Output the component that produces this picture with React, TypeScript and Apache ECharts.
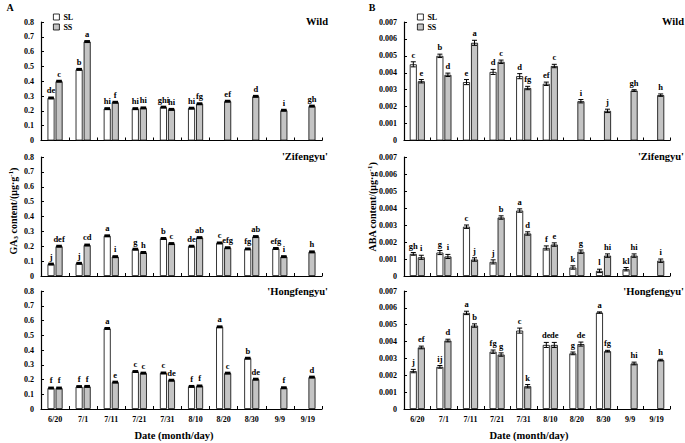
import React, { useEffect, useRef } from "react";
import * as echarts from "echarts";

const categories = ["6/20", "7/1", "7/11", "7/21", "7/31", "8/10", "8/20", "8/30", "9/9", "9/19"];

// GA3 (panel A)
const gaWildSL = [0.287, 0.48, 0.215, 0.215, 0.225, 0.218, null, null, null, null];
const gaWildSS = [0.4, 0.668, 0.258, 0.22, 0.21, 0.248, 0.265, 0.298, 0.204, 0.232];
const gaWildSLLetters = ["de", "b", "hi", "hi", "ghi", "hi", "", "", "", ""];
const gaWildSSLetters = ["c", "a", "f", "hi", "hi", "fg", "ef", "d", "i", "gh"];

const gaZifSL = [0.08, 0.085, 0.27, 0.18, 0.252, 0.2, 0.222, 0.182, 0.185, null];
const gaZifSS = [0.2, 0.208, 0.13, 0.158, 0.218, 0.258, 0.19, 0.265, 0.13, 0.162];
const gaZifSLLetters = ["j", "j", "a", "g", "b", "de", "c", "fg", "efg", ""];
const gaZifSSLetters = ["def", "cd", "i", "h", "c", "ab", "efg", "ab", "i", "h"];

const gaHongSL = [0.142, 0.152, 0.546, 0.254, 0.244, 0.153, 0.557, 0.344, null, null];
const gaHongSS = [0.142, 0.153, 0.182, 0.243, 0.195, 0.156, 0.243, 0.202, 0.144, 0.216];
const gaHongSLLetters = ["f", "f", "a", "c", "c", "f", "a", "b", "", ""];
const gaHongSSLetters = ["f", "f", "e", "c", "de", "f", "c", "de", "f", "d"];

const gaErr = [0.004, 0.004, 0.004, 0.004, 0.004, 0.004, 0.004, 0.004, 0.004, 0.004];

// ABA (panel B)
const abaWildSL = [0.0045, 0.005, 0.00345, 0.00405, 0.0038, 0.00335, null, null, null, null];
const abaWildSS = [0.0035, 0.00388, 0.00577, 0.00465, 0.0031, 0.0044, 0.00232, 0.00175, 0.00295, 0.00268];
const abaWildSLLetters = ["c", "b", "e", "d", "d", "ef", "", "", "", ""];
const abaWildSSLetters = ["e", "d", "a", "c", "fg", "c", "i", "j", "gh", "h"];
const abaWildSLErr = [0.00015, 0.0001, 0.00015, 0.00015, 0.00015, 0.0001, 0, 0, 0, 0];
const abaWildSSErr = [0.0001, 0.0001, 0.00015, 0.0001, 0.0001, 0.0001, 0.0001, 0.0001, 0.00005, 0.00007];

const abaZifSL = [0.0013, 0.00138, 0.0029, 0.00083, 0.00385, 0.00165, 0.0005, 0.0003, 0.0004, null];
const abaZifSS = [0.0011, 0.00115, 0.00097, 0.00344, 0.0025, 0.00185, 0.00143, 0.0012, 0.0012, 0.0009];
const abaZifSLLetters = ["gh", "g", "c", "j", "a", "f", "k", "l", "kl", ""];
const abaZifSSLetters = ["i", "i", "j", "b", "d", "e", "g", "hi", "hi", "i"];
const abaZifSLErr = [0.00008, 0.00012, 0.0001, 0.00012, 0.0001, 0.00012, 0.0001, 0.0001, 0.0001, 0];
const abaZifSSErr = [0.00012, 0.00012, 0.0001, 0.0001, 0.0001, 0.0001, 0.0001, 0.0001, 0.0001, 0.0001];

const abaHongSL = [0.00225, 0.0025, 0.0057, 0.0034, 0.00465, 0.0038, 0.0033, 0.00572, null, null];
const abaHongSS = [0.00365, 0.00406, 0.00495, 0.00323, 0.00135, 0.0038, 0.00385, 0.00343, 0.0027, 0.0029];
const abaHongSLLetters = ["j", "ij", "a", "fg", "c", "de", "g", "a", "", ""];
const abaHongSSLetters = ["ef", "d", "b", "g", "k", "de", "de", "fg", "hi", "h"];
const abaHongSLErr = [0.0001, 0.00008, 0.0001, 0.0001, 0.00015, 0.00015, 0.00008, 0.00004, 0, 0];
const abaHongSSErr = [0.00008, 0.00008, 0.0001, 0.0001, 0.0001, 0.00015, 0.00012, 0.00005, 0.00008, 0.00005];

const panelTitles = ["Wild", "'Zifengyu'", "'Hongfengyu'"];

const FONT = '"Liberation Serif", "Times New Roman", serif';

const panels = [
  { sl: gaWildSL, ss: gaWildSS, slL: gaWildSLLetters, ssL: gaWildSSLetters, slE: gaErr, ssE: gaErr },
  { sl: gaZifSL, ss: gaZifSS, slL: gaZifSLLetters, ssL: gaZifSSLetters, slE: gaErr, ssE: gaErr },
  { sl: gaHongSL, ss: gaHongSS, slL: gaHongSLLetters, ssL: gaHongSSLetters, slE: gaErr, ssE: gaErr },
  { sl: abaWildSL, ss: abaWildSS, slL: abaWildSLLetters, ssL: abaWildSSLetters, slE: abaWildSLErr, ssE: abaWildSSErr },
  { sl: abaZifSL, ss: abaZifSS, slL: abaZifSLLetters, ssL: abaZifSSLetters, slE: abaZifSLErr, ssE: abaZifSSErr },
  { sl: abaHongSL, ss: abaHongSS, slL: abaHongSLLetters, ssL: abaHongSSLetters, slE: abaHongSLErr, ssE: abaHongSSErr },
];

const gridTops = [22, 157, 291];
const gridHeights = [118.5, 119, 118];

function errSeries(gi: number, vals: (number | null)[], errs: number[], letters: string[], side: number, ga: boolean) {
  const data: number[][] = [];
  vals.forEach((v, i) => {
    if (v != null) data.push([i, v, errs[i]]);
  });
  return {
    type: "custom",
    xAxisIndex: gi,
    yAxisIndex: gi,
    z: 5,
    silent: true,
    data,
    renderItem: (params: any, api: any) => {
      const i = api.value(0);
      const v = api.value(1);
      const e = api.value(2);
      const c = api.coord([i, v]);
      const x = c[0] + side * 4;
      const yh = api.coord([i, v + e])[1];
      const yl = api.coord([i, v - e])[1];
      const hw = ga ? 2.8 : 2.5;
      const st = { stroke: "#000", lineWidth: ga ? 1.8 : 1 };
      return {
        type: "group",
        children: [
          { type: "line", shape: { x1: x, y1: yh, x2: x, y2: yl }, style: st },
          { type: "line", shape: { x1: x - hw, y1: yh, x2: x + hw, y2: yh }, style: st },
          { type: "line", shape: { x1: x - hw, y1: yl, x2: x + hw, y2: yl }, style: st },
          {
            type: "text",
            x: x,
            y: yh - 2.5,
            style: {
              text: letters[i],
              textAlign: "center",
              textVerticalAlign: "bottom",
              font: `bold 8.5px ${FONT}`,
              fill: "#000",
            },
          },
        ],
      };
    },
  };
}

const richName = {
  a: { fontFamily: FONT, fontWeight: "bold", fontSize: 10, lineHeight: 12, verticalAlign: "middle", color: "#000" },
  s: { fontFamily: FONT, fontWeight: "bold", fontSize: 7, lineHeight: 7, verticalAlign: "bottom", color: "#000" },
  p: { fontFamily: FONT, fontWeight: "bold", fontSize: 7, lineHeight: 7, verticalAlign: "top", color: "#000" },
};

export default function App() {
  const ref = useRef<HTMLDivElement>(null);
  useEffect(() => {
    if (!ref.current) return;
    const chart = echarts.init(ref.current, null, { renderer: "svg" });

    const grids: any[] = [];
    const xAxes: any[] = [];
    const yAxes: any[] = [];
    const series: any[] = [];

    panels.forEach((p, gi) => {
      const col = gi < 3 ? 0 : 1;
      const row = gi % 3;
      const ga = col === 0;
      grids.push({
        left: col === 0 ? 41 : 404,
        width: col === 0 ? 281 : 266,
        top: gridTops[row],
        height: gridHeights[row],
        containLabel: false,
      });
      xAxes.push({
        type: "category",
        gridIndex: gi,
        data: categories,
        axisLine: { lineStyle: { color: "#000", width: 1.2 } },
        axisTick: { show: true, inside: true, length: 3, interval: 0, lineStyle: { color: "#000", width: 1 } },
        axisLabel: {
          show: row === 2,
          interval: 0,
          margin: 6,
          color: "#000",
          fontFamily: FONT,
          fontWeight: "bold",
          fontSize: 8,
        },
      });
      yAxes.push({
        type: "value",
        gridIndex: gi,
        min: 0,
        max: ga ? 0.8 : 0.007,
        interval: ga ? 0.1 : 0.001,
        axisLine: { show: true, lineStyle: { color: "#000", width: 1.2 } },
        axisTick: { show: true, inside: true, length: 3, lineStyle: { color: "#000", width: 1 } },
        splitLine: { show: false },
        axisLabel: {
          margin: 7,
          color: "#000",
          fontFamily: FONT,
          fontWeight: "bold",
          fontSize: 8,
          formatter: (v: number) => (v === 0 ? "0" : ga ? v.toFixed(1) : v.toFixed(3)),
        },
      });
      series.push({
        type: "bar",
        name: "SL",
        xAxisIndex: gi,
        yAxisIndex: gi,
        barWidth: 7,
        barGap: "15%",
        data: p.sl.map((v) => (v == null ? "-" : v)),
        itemStyle: { color: "#ffffff", borderColor: "#000", borderWidth: 0.8 },
      });
      series.push({
        type: "bar",
        name: "SS",
        xAxisIndex: gi,
        yAxisIndex: gi,
        barWidth: 7,
        barGap: "15%",
        data: p.ss.map((v) => (v == null ? "-" : v)),
        itemStyle: { color: "#c4c4c4", borderColor: "#000", borderWidth: 0.8 },
      });
      series.push(errSeries(gi, p.sl, p.slE, p.slL, -1, ga));
      series.push(errSeries(gi, p.ss, p.ssE, p.ssL, 1, ga));
    });

    const legendBase = {
      orient: "vertical",
      top: 8,
      itemWidth: 6,
      itemHeight: 6,
      itemGap: 2,
      icon: "rect",
      data: ["SL", "SS"],
      selectedMode: false,
      itemStyle: { borderColor: "#000", borderWidth: 0.8 },
      textStyle: { fontFamily: FONT, fontWeight: "bold", fontSize: 8, color: "#000", padding: [0, 0, 0, -1] },
    };

    const graphic: any[] = [
      { type: "text", x: 10, y: 7, style: { text: "A", font: `bold 10px ${FONT}`, fill: "#000", textAlign: "center", textVerticalAlign: "middle" } },
      { type: "text", x: 372, y: 7, style: { text: "B", font: `bold 10px ${FONT}`, fill: "#000", textAlign: "center", textVerticalAlign: "middle" } },
      {
        type: "text",
        x: 13,
        y: 211,
        rotation: Math.PI / 2,
        style: {
          text: "{a|GA}{s|3}{a| content/(\u03bcg\u00b7g}{p|-1}{a|)}",
          rich: richName,
          textAlign: "center",
          textVerticalAlign: "middle",
        },
      },
      {
        type: "text",
        x: 372,
        y: 207,
        rotation: Math.PI / 2,
        style: {
          text: "{a|ABA content/(\u03bcg\u00b7g}{p|-1}{a|)}",
          rich: richName,
          textAlign: "center",
          textVerticalAlign: "middle",
        },
      },
      { type: "text", x: 174, y: 435, style: { text: "Date (month/day)", font: `bold 10.5px ${FONT}`, fill: "#000", textAlign: "center", textVerticalAlign: "middle" } },
      { type: "text", x: 529, y: 435, style: { text: "Date (month/day)", font: `bold 10.5px ${FONT}`, fill: "#000", textAlign: "center", textVerticalAlign: "middle" } },
    ];
    const titleY = [21, 156, 291];
    [0, 1].forEach((col) => {
      panelTitles.forEach((t, row) => {
        graphic.push({
          type: "text",
          x: col === 0 ? 328 : 684,
          y: titleY[row],
          style: { text: t, font: `bold 10.5px ${FONT}`, fill: "#000", textAlign: "right", textVerticalAlign: "middle" },
        });
      });
    });

    chart.setOption({
      animation: false,
      backgroundColor: "#ffffff",
      grid: grids,
      xAxis: xAxes,
      yAxis: yAxes,
      legend: [
        { ...legendBase, left: 48 },
        { ...legendBase, left: 412 },
      ],
      series,
      graphic,
    });
    return () => chart.dispose();
  }, []);
  return <div ref={ref} style={{ position: "fixed", left: 0, top: 0, width: 685, height: 443 }} />;
}
